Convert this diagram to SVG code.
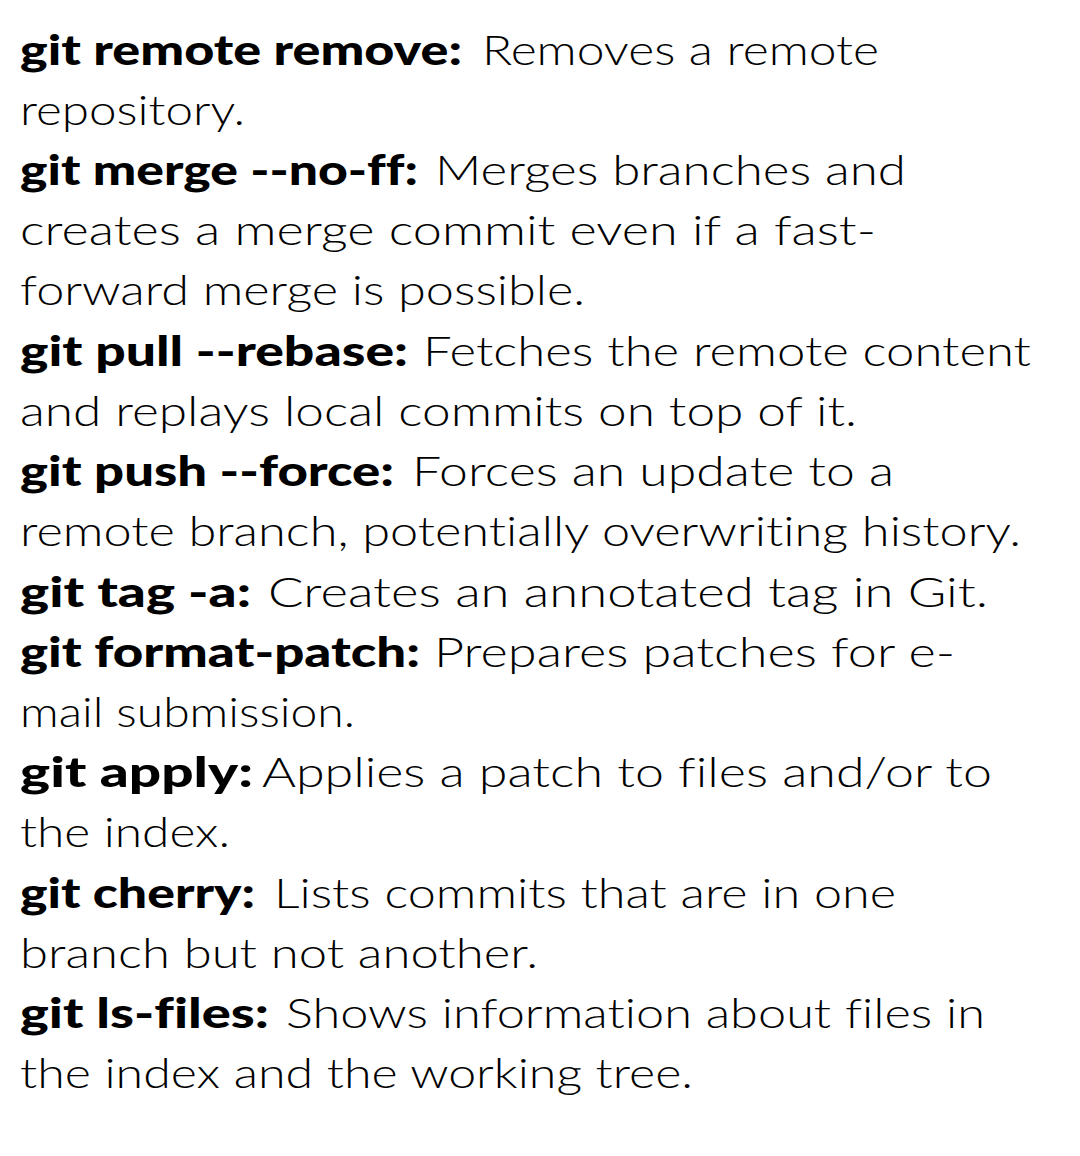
<svg xmlns="http://www.w3.org/2000/svg" width="1080" height="1156" viewBox="0 0 1080 1156">
<style>
text{font-family:Lato,"Liberation Sans",sans-serif;font-size:42px;fill:#000;font-variant-ligatures:none;font-feature-settings:"liga" 0,"clig" 0}
.b{font-weight:900}
.r{font-weight:300}
</style>
<rect width="1080" height="1156" fill="#fff"/>
<g id="remote-remove">
<text class="b" x="20" y="65" textLength="442" lengthAdjust="spacingAndGlyphs">git remote remove:</text>
<text class="r" x="482" y="65" textLength="397" lengthAdjust="spacingAndGlyphs">Removes a remote</text>
<text class="r" x="20" y="125" textLength="225" lengthAdjust="spacingAndGlyphs">repository.</text>
</g>
<g id="merge-no-ff">
<text class="b" x="20" y="185" textLength="398" lengthAdjust="spacingAndGlyphs">git merge --no-ff:</text>
<text class="r" x="435" y="185" textLength="471" lengthAdjust="spacingAndGlyphs">Merges branches and</text>
<text class="r" x="20" y="245" textLength="856" lengthAdjust="spacingAndGlyphs">creates a merge commit even if a fast-</text>
<text class="r" x="20" y="305" textLength="565" lengthAdjust="spacingAndGlyphs">forward merge is possible.</text>
</g>
<g id="pull-rebase">
<text class="b" x="20" y="366" textLength="388" lengthAdjust="spacingAndGlyphs">git pull --rebase:</text>
<text class="r" x="423" y="366" textLength="608" lengthAdjust="spacingAndGlyphs">Fetches the remote content</text>
<text class="r" x="20" y="426" textLength="837" lengthAdjust="spacingAndGlyphs">and replays local commits on top of it.</text>
</g>
<g id="push-force">
<text class="b" x="20" y="486" textLength="374" lengthAdjust="spacingAndGlyphs">git push --force:</text>
<text class="r" x="412" y="486" textLength="482" lengthAdjust="spacingAndGlyphs">Forces an update to a</text>
<text class="r" x="20" y="546" textLength="1001" lengthAdjust="spacingAndGlyphs">remote branch, potentially overwriting history.</text>
</g>
<g id="tag-a">
<text class="b" x="20" y="607" textLength="231" lengthAdjust="spacingAndGlyphs">git tag -a:</text>
<text class="r" x="268" y="607" textLength="720" lengthAdjust="spacingAndGlyphs">Creates an annotated tag in Git.</text>
</g>
<g id="format-patch">
<text class="b" x="20" y="667" textLength="400" lengthAdjust="spacingAndGlyphs">git format-patch:</text>
<text class="r" x="434" y="667" textLength="521" lengthAdjust="spacingAndGlyphs">Prepares patches for e-</text>
<text class="r" x="20" y="727" textLength="335" lengthAdjust="spacingAndGlyphs">mail submission.</text>
</g>
<g id="apply">
<text class="b" x="20" y="787" textLength="233" lengthAdjust="spacingAndGlyphs">git apply:</text>
<text class="r" x="262" y="787" textLength="730" lengthAdjust="spacingAndGlyphs">Applies a patch to files and/or to</text>
<text class="r" x="20" y="847" textLength="210" lengthAdjust="spacingAndGlyphs">the index.</text>
</g>
<g id="cherry">
<text class="b" x="20" y="908" textLength="235" lengthAdjust="spacingAndGlyphs">git cherry:</text>
<text class="r" x="274" y="908" textLength="622" lengthAdjust="spacingAndGlyphs">Lists commits that are in one</text>
<text class="r" x="20" y="968" textLength="518" lengthAdjust="spacingAndGlyphs">branch but not another.</text>
</g>
<g id="ls-files">
<text class="b" x="20" y="1028" textLength="249" lengthAdjust="spacingAndGlyphs">git ls-files:</text>
<text class="r" x="286" y="1028" textLength="699" lengthAdjust="spacingAndGlyphs">Shows information about files in</text>
<text class="r" x="20" y="1088" textLength="673" lengthAdjust="spacingAndGlyphs">the index and the working tree.</text>
</g>
</svg>
